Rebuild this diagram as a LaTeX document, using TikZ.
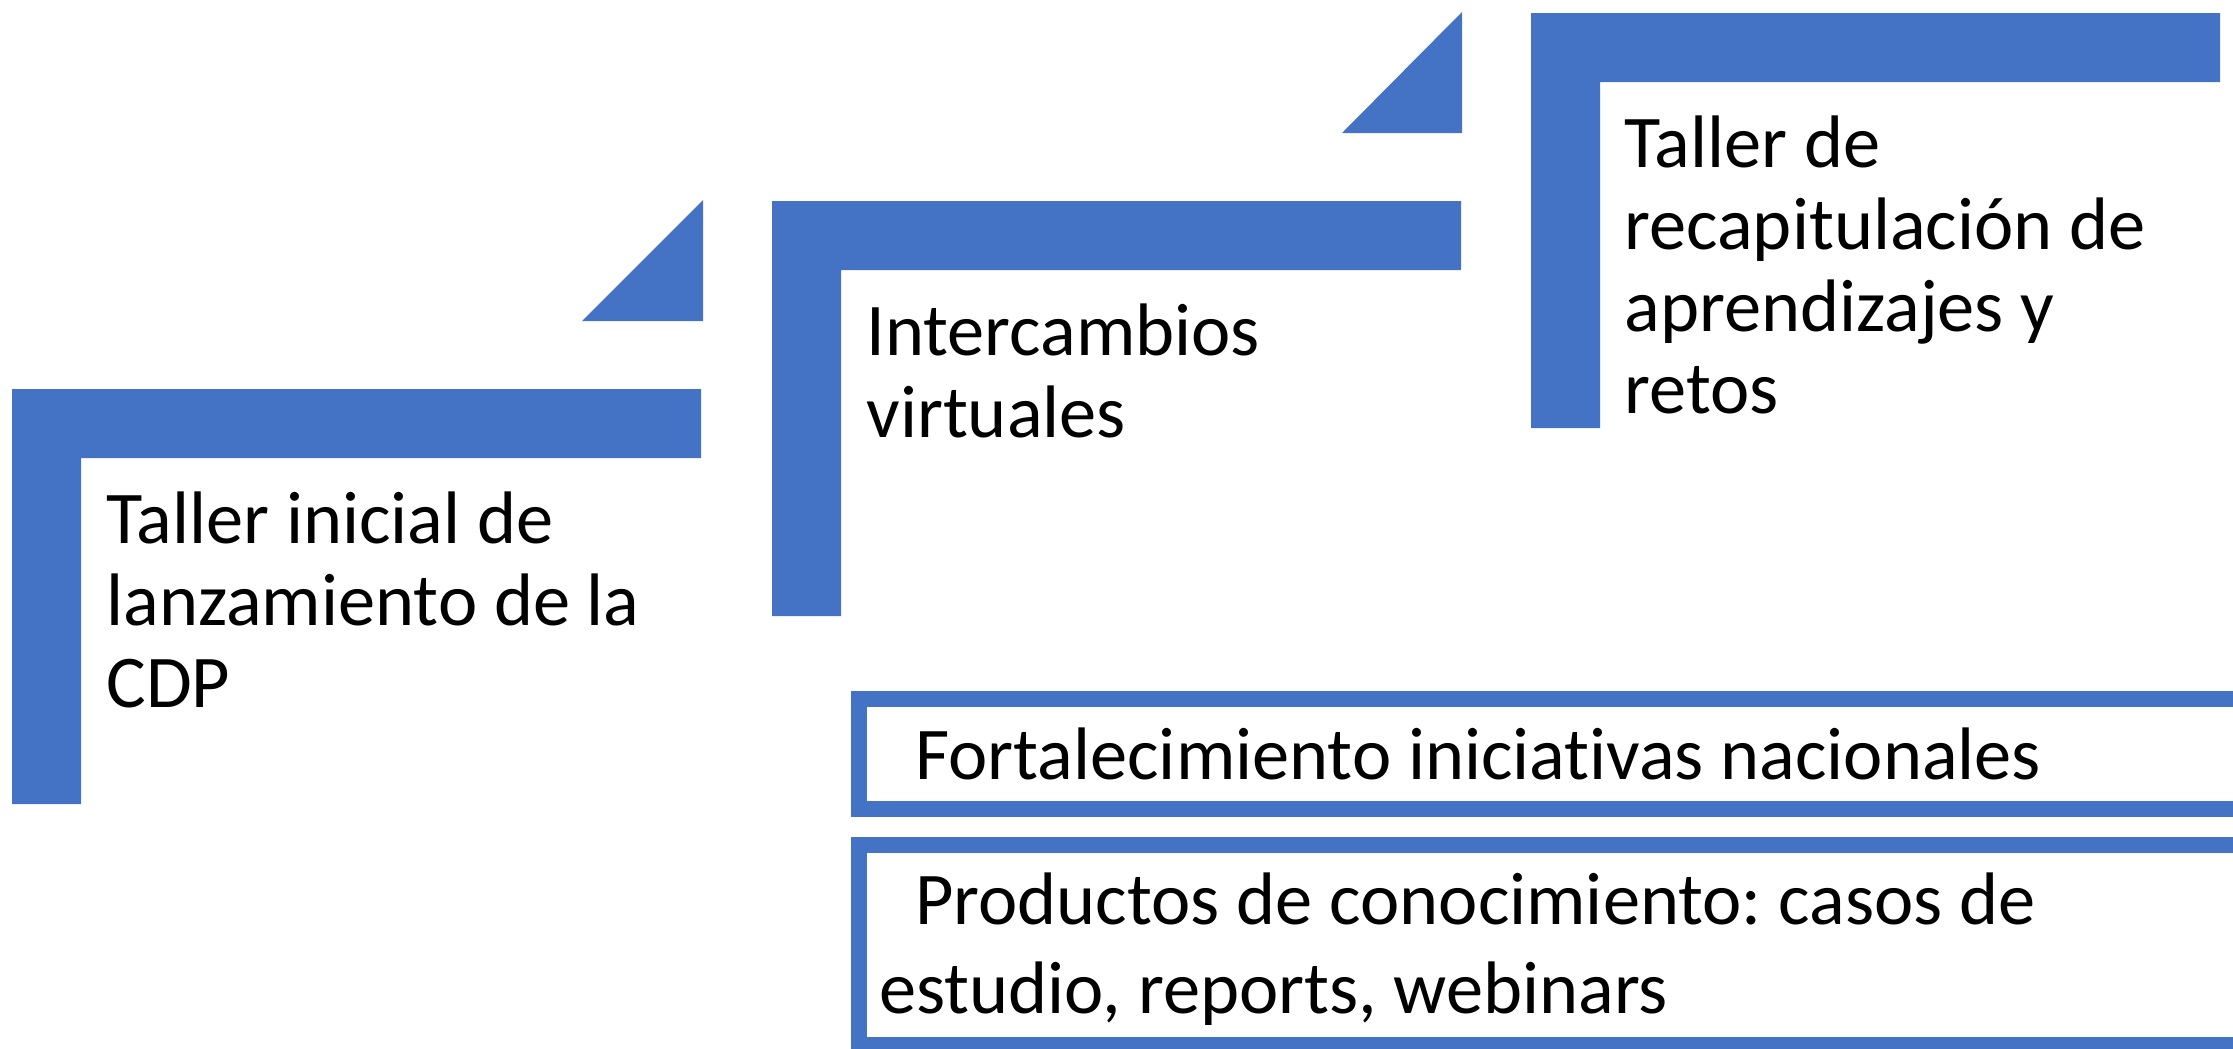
\documentclass[tikz,border=0pt]{standalone}
\usepackage{fontspec}
\setmainfont{Carlito}[Ligatures=NoCommon]
\definecolor{officeblue}{HTML}{4472C4}
\frenchspacing
\begin{document}
\begin{tikzpicture}[x=0.5pt,y=-0.5pt,
  bluefill/.style={fill=officeblue,draw=none},
  frame/.style={draw=officeblue,line width=8pt},
  steptext/.style={anchor=base west,inner sep=0pt,align=left,
    font=\fontsize{37.2pt}{41pt}\selectfont\frenchspacing},
  boxtext/.style={anchor=base west,inner sep=0pt,align=left,
    font=\fontsize{37.2pt}{44.5pt}\selectfont\frenchspacing}]
\useasboundingbox (0,0) rectangle (2233,1049);
\clip (0,0) rectangle (2233,1049);
% L-shaped steps
\foreach \xo/\yo in {12/389, 772/201, 1531/13}{
  \fill[bluefill] (\xo,\yo) -- ++(689,0) -- ++(0,69) -- ++(-620,0)
    -- ++(0,346) -- ++(-69,0) -- cycle;
}
% triangles
\fill[bluefill] (582,321) -- (703,321) -- (703,200) -- cycle;
\fill[bluefill] (1342,133) -- (1462,133) -- (1462,12) -- cycle;
% step texts (anchored at the baseline of their last line)
\node[steptext] (s1) at (106,707) {Taller inicial de\\lanzamiento de la\\CDP};
\node[steptext] (s2) at (866,437) {Intercambios\\virtuales};
\node[steptext] (s3) at (1624,413) {Taller de\\recapitulación de\\aprendizajes y\\retos};
% bottom boxes
\draw[frame] (859,699) rectangle (2300,809);
\draw[frame] (859,845) rectangle (2300,1045);
\node[boxtext] (b1) at (915,779) {Fortalecimiento iniciativas nacionales};
\node[boxtext] (b2) at (879,1013) {\hspace*{18pt}Productos de conocimiento: casos de\\estudio, reports, webinars};
\end{tikzpicture}
\end{document}
